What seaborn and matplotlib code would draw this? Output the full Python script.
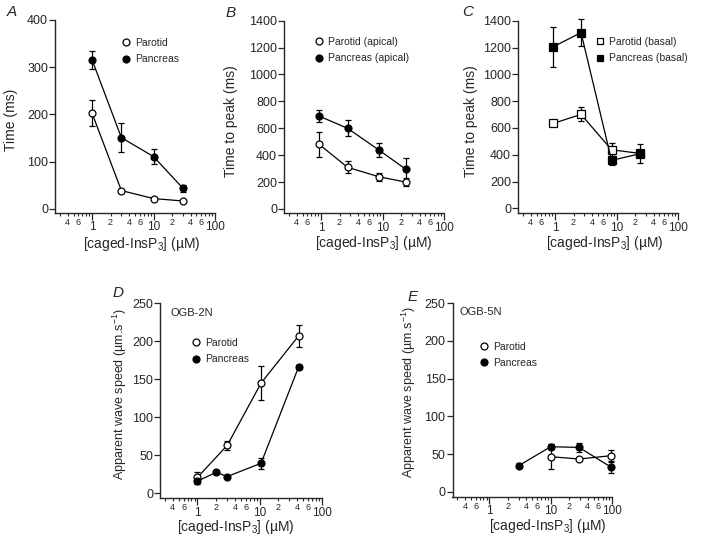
import numpy as np
import matplotlib
matplotlib.use("Agg")
import matplotlib.pyplot as plt
import matplotlib.ticker as mticker
from matplotlib.lines import Line2D
import seaborn as sns

sns.set_theme(style="ticks")
plt.rcParams["font.family"] = ["Liberation Sans", "DejaVu Sans"]
plt.rcParams["mathtext.default"] = "regular"

# ---- data ----
# A: time, ms
a_x = [1, 3, 10, 30]
a_parotid = [203, 39, 22, 17]
a_parotid_err = [28, 0, 0, 0]
a_pancreas = [316, 151, 111, 44]
a_pancreas_err = [19, 30, 16, 7]

# B: time to peak, apical
b_x = [0.93, 2.7, 8.7, 24]
b_parotid = [481, 310, 240, 200]
b_parotid_err = [95, 45, 30, 28]
b_pancreas = [691, 600, 439, 295]
b_pancreas_err = [45, 58, 55, 85]

# C: time to peak, basal
c_x = [0.94, 2.65, 8.3, 24]
c_parotid = [634, 701, 437, 410]
c_parotid_err = [0, 52, 50, 0]
c_pancreas = [1206, 1311, 358, 407]
c_pancreas_err = [148, 100, 35, 70]

# D: wave speed, OGB-2N
d_parotid_x = [1, 3, 10.5, 42]
d_parotid = [21, 63, 145, 207]
d_parotid_err = [7, 6, 22, 14]
d_pancreas_x = [1, 2, 3, 10.5, 42]
d_pancreas = [16, 27.6, 22, 39.5, 166]
d_pancreas_err = [4, 2, 2, 7, 3]

# E: wave speed, OGB-5N
e_parotid_x = [10, 29, 96]
e_parotid = [46.5, 43.4, 47.8]
e_parotid_err = [17, 0, 8]
e_pancreas_x = [3, 10, 29, 96]
e_pancreas = [34.5, 59.7, 58.8, 32.7]
e_pancreas_err = [3, 3, 6.5, 8.5]

W, H = 702, 536
fig = plt.figure(figsize=(W / 100, H / 100), dpi=100)


def px_axes(left, top, right, bottom):
    return fig.add_axes([left / W, 1 - bottom / H, (right - left) / W, (bottom - top) / H])


def minor_fmt(x, pos):
    m = int(round(x / 10 ** np.floor(np.log10(x) + 1e-9)))
    return str(m) if m in (2, 4, 6) else ""


def series(ax, x, y, err, filled, marker="o"):
    x = np.asarray(x, float); y = np.asarray(y, float); err = np.asarray(err, float)
    m = err > 0
    eb = ax.errorbar(x[m], y[m], yerr=err[m], fmt="none", ecolor="black",
                     elinewidth=0.9, capsize=2.5, capthick=0.9, zorder=2)
    for art in eb.lines[1] + eb.lines[2]:
        art.set_clip_on(False)
    sns.lineplot(x=x, y=y, ax=ax, color="black", linewidth=0.9, marker=marker,
                 markersize=5 if marker == "o" else 5.2,
                 markerfacecolor="black" if filled else "white",
                 markeredgecolor="black", markeredgewidth=0.9, zorder=3, clip_on=False)


def style(ax, yticks, ylim, ylabel, ylab_x, ylab_y, xlab_x, xlab_y, ylab_size=10):
    ax.set_xscale("log")
    ax.set_xlim(0.25, 100)
    ax.set_ylim(*ylim)
    ax.set_yticks(yticks)
    ax.xaxis.set_major_locator(mticker.FixedLocator([1, 10, 100]))
    ax.xaxis.set_major_formatter(mticker.FixedFormatter(["1", "10", "100"]))
    ax.xaxis.set_minor_locator(mticker.LogLocator(base=10, subs=np.arange(2, 10), numticks=20))
    ax.xaxis.set_minor_formatter(mticker.FuncFormatter(minor_fmt))
    ax.tick_params(axis="x", which="major", length=5, width=0.9, labelsize=8.5, pad=1, direction="out")
    ax.tick_params(axis="x", which="minor", length=2.5, width=0.8, labelsize=6.5, pad=1, direction="out")
    ax.tick_params(axis="y", length=4, width=0.9, labelsize=9, pad=1, direction="out")
    sns.despine(ax=ax)
    for s in ("left", "bottom"):
        ax.spines[s].set_linewidth(1.0)
    ax.set_ylabel(ylabel, fontsize=ylab_size)
    ax.yaxis.set_label_coords(ylab_x, ylab_y)
    ax.set_xlabel("[caged-InsP$_3$] (µM)", fontsize=10)
    ax.xaxis.set_label_coords(xlab_x, xlab_y)
    ax.xaxis.label.set_va("top")
    ax.grid(False)


def legend(ax, labels, anchor, marker="o"):
    handles = [Line2D([], [], ls="none", marker=marker, ms=5, mfc="white", mec="black", mew=0.9),
               Line2D([], [], ls="none", marker=marker, ms=5, mfc="black", mec="black", mew=0.9)]
    ax.legend(handles, labels, loc="upper left", bbox_to_anchor=anchor, frameon=False,
              fontsize=7.5, handlelength=1.0, handletextpad=0.4, labelspacing=0.6,
              borderpad=0, borderaxespad=0)


# ── A ──
axA = px_axes(55, 20, 215, 213)
series(axA, a_x, a_parotid, a_parotid_err, False)
series(axA, a_x, a_pancreas, a_pancreas_err, True)
style(axA, [0, 100, 200, 300, 400], (-8.5, 400), "Time (ms)", -0.231, 0.48, 0.54, -0.112)
legend(axA, ["Parotid", "Pancreas"], (0.41, 0.907))

# ── B ──
axB = px_axes(284, 20.7, 444, 213.3)
series(axB, b_x, b_parotid, b_parotid_err, False)
series(axB, b_x, b_pancreas, b_pancreas_err, True)
style(axB, range(0, 1401, 200), (-32, 1400), "Time to peak (ms)", -0.288, 0.48, 0.56, -0.11)
legend(axB, ["Parotid (apical)", "Pancreas (apical)"], (0.186, 0.915))

# ── C ──
axC = px_axes(518, 20.7, 678, 213.3)
series(axC, c_x, c_parotid, c_parotid_err, False, marker="s")
series(axC, c_x, c_pancreas, c_pancreas_err, True, marker="s")
style(axC, range(0, 1401, 200), (-37, 1400), "Time to peak (ms)", -0.25, 0.48, 0.54, -0.11)
legend(axC, ["Parotid (basal)", "Pancreas (basal)"], (0.477, 0.915), marker="s")

# ── D ──
axD = px_axes(160, 303.3, 322, 498.3)
series(axD, d_parotid_x, d_parotid, d_parotid_err, False)
series(axD, d_pancreas_x, d_pancreas, d_pancreas_err, True)
style(axD, range(0, 251, 50), (-6.6, 250), "Apparent wave speed (µm.s$^{-1}$)",
      -0.191, 0.535, 0.466, -0.1, ylab_size=9)
legend(axD, ["Parotid", "Pancreas"], (0.191, 0.822))
axD.text(0.062, 0.95, "OGB-2N", transform=axD.transAxes, fontsize=8, va="center", ha="left")

# ── E ──
axE = px_axes(452.5, 303.3, 612, 496.7)
series(axE, e_parotid_x, e_parotid, e_parotid_err, False)
series(axE, e_pancreas_x, e_pancreas, e_pancreas_err, True)
style(axE, range(0, 251, 50), (-6.6, 250), "Apparent wave speed (µm.s$^{-1}$)",
      -0.216, 0.54, 0.6, -0.104, ylab_size=9)
legend(axE, ["Parotid", "Pancreas"], (0.166, 0.802))
axE.text(0.047, 0.953, "OGB-5N", transform=axE.transAxes, fontsize=8, va="center", ha="left")

# panel letters
for letter, (x, y) in {"A": (7, 12), "B": (226, 13), "C": (462, 12),
                       "D": (113, 293), "E": (408, 297)}.items():
    fig.text(x / W, 1 - y / H, letter, fontsize=11, style="italic", ha="left", va="center")

fig.savefig("out.png", dpi=100)
